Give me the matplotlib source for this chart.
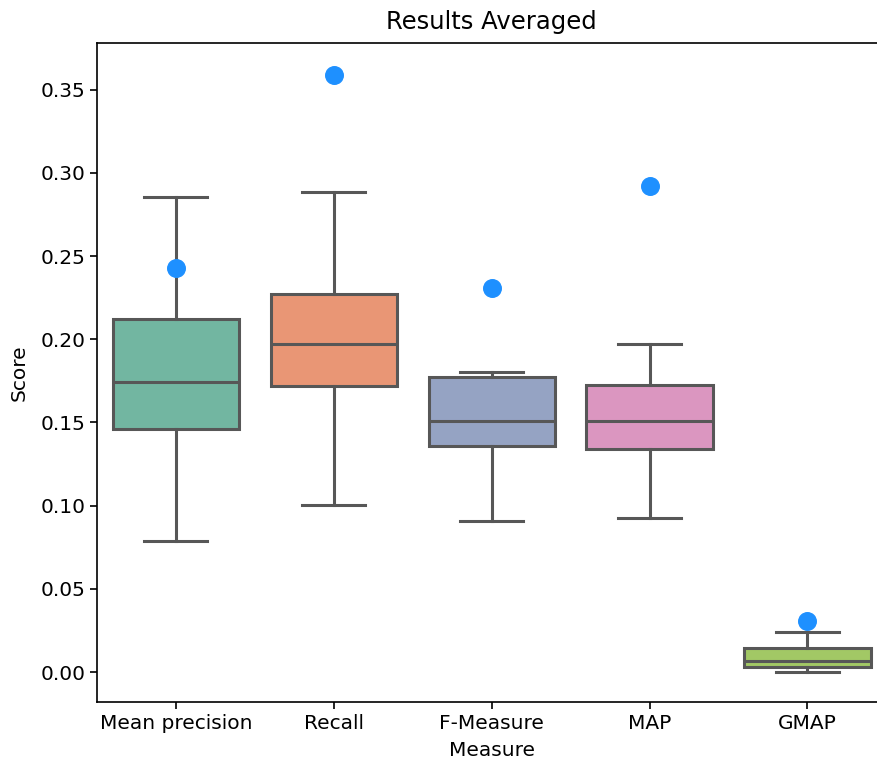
import matplotlib
matplotlib.use("Agg")
import matplotlib.pyplot as plt
import seaborn as sns

measures = ["Mean precision", "Recall", "F-Measure", "MAP", "GMAP"]

# box statistics
whis_low = [0.0789, 0.1006, 0.0910, 0.0928, 0.0000]
q1 = [0.1458, 0.1717, 0.1361, 0.1343, 0.0030]
median = [0.1740, 0.1970, 0.1506, 0.1506, 0.0066]
q3 = [0.2120, 0.2271, 0.1771, 0.1723, 0.0145]
whis_high = [0.2855, 0.2886, 0.1801, 0.1970, 0.0241]

# blue dots
highlight = [0.2428, 0.3590, 0.2307, 0.2922, 0.0307]

fig = plt.figure(figsize=(8.77, 7.61), dpi=100)
ax = fig.add_axes([0.1106, 0.0775, 0.9, 0.866])

stats = []
for i, name in enumerate(measures):
    stats.append({"label": name, "whislo": whis_low[i], "q1": q1[i], "med": median[i],
                  "q3": q3[i], "whishi": whis_high[i], "fliers": []})

gray = "#575757"
lw = 2.2
bp = ax.bxp(stats, positions=range(len(measures)), widths=0.8, patch_artist=True,
            showfliers=False,
            boxprops=dict(edgecolor=gray, linewidth=lw),
            medianprops=dict(color=gray, linewidth=lw),
            whiskerprops=dict(color=gray, linewidth=lw),
            capprops=dict(color=gray, linewidth=lw))
colors = [sns.desaturate(c, 0.75) for c in sns.color_palette("Set2", 5)]
for patch, c in zip(bp["boxes"], colors):
    patch.set_facecolor(c)
for cap in bp["caps"]:
    x = cap.get_xdata()
    mid = (x[0] + x[1]) / 2
    cap.set_xdata([mid - 0.2, mid + 0.2])

ax.scatter(range(len(measures)), highlight, s=160, color="dodgerblue", zorder=5)

ax.set_xlim(-0.5, 4.5)
ax.set_ylim(-0.018, 0.378)
ax.set_xticks(range(len(measures)))
ax.set_xticklabels(measures)
ax.set_yticks([0.0, 0.05, 0.1, 0.15, 0.2, 0.25, 0.3, 0.35])
ax.set_yticklabels(["0.00", "0.05", "0.10", "0.15", "0.20", "0.25", "0.30", "0.35"])
ax.tick_params(labelsize=14.5, length=5, width=1.2)
for s in ax.spines.values():
    s.set_linewidth(1.2)
ax.set_xlabel("Measure", fontsize=14.5, labelpad=6)
ax.set_ylabel("Score", fontsize=14.5, labelpad=8)
ax.set_title("Results Averaged", fontsize=17.5, pad=10)

fig.savefig("out.png", dpi=100)
